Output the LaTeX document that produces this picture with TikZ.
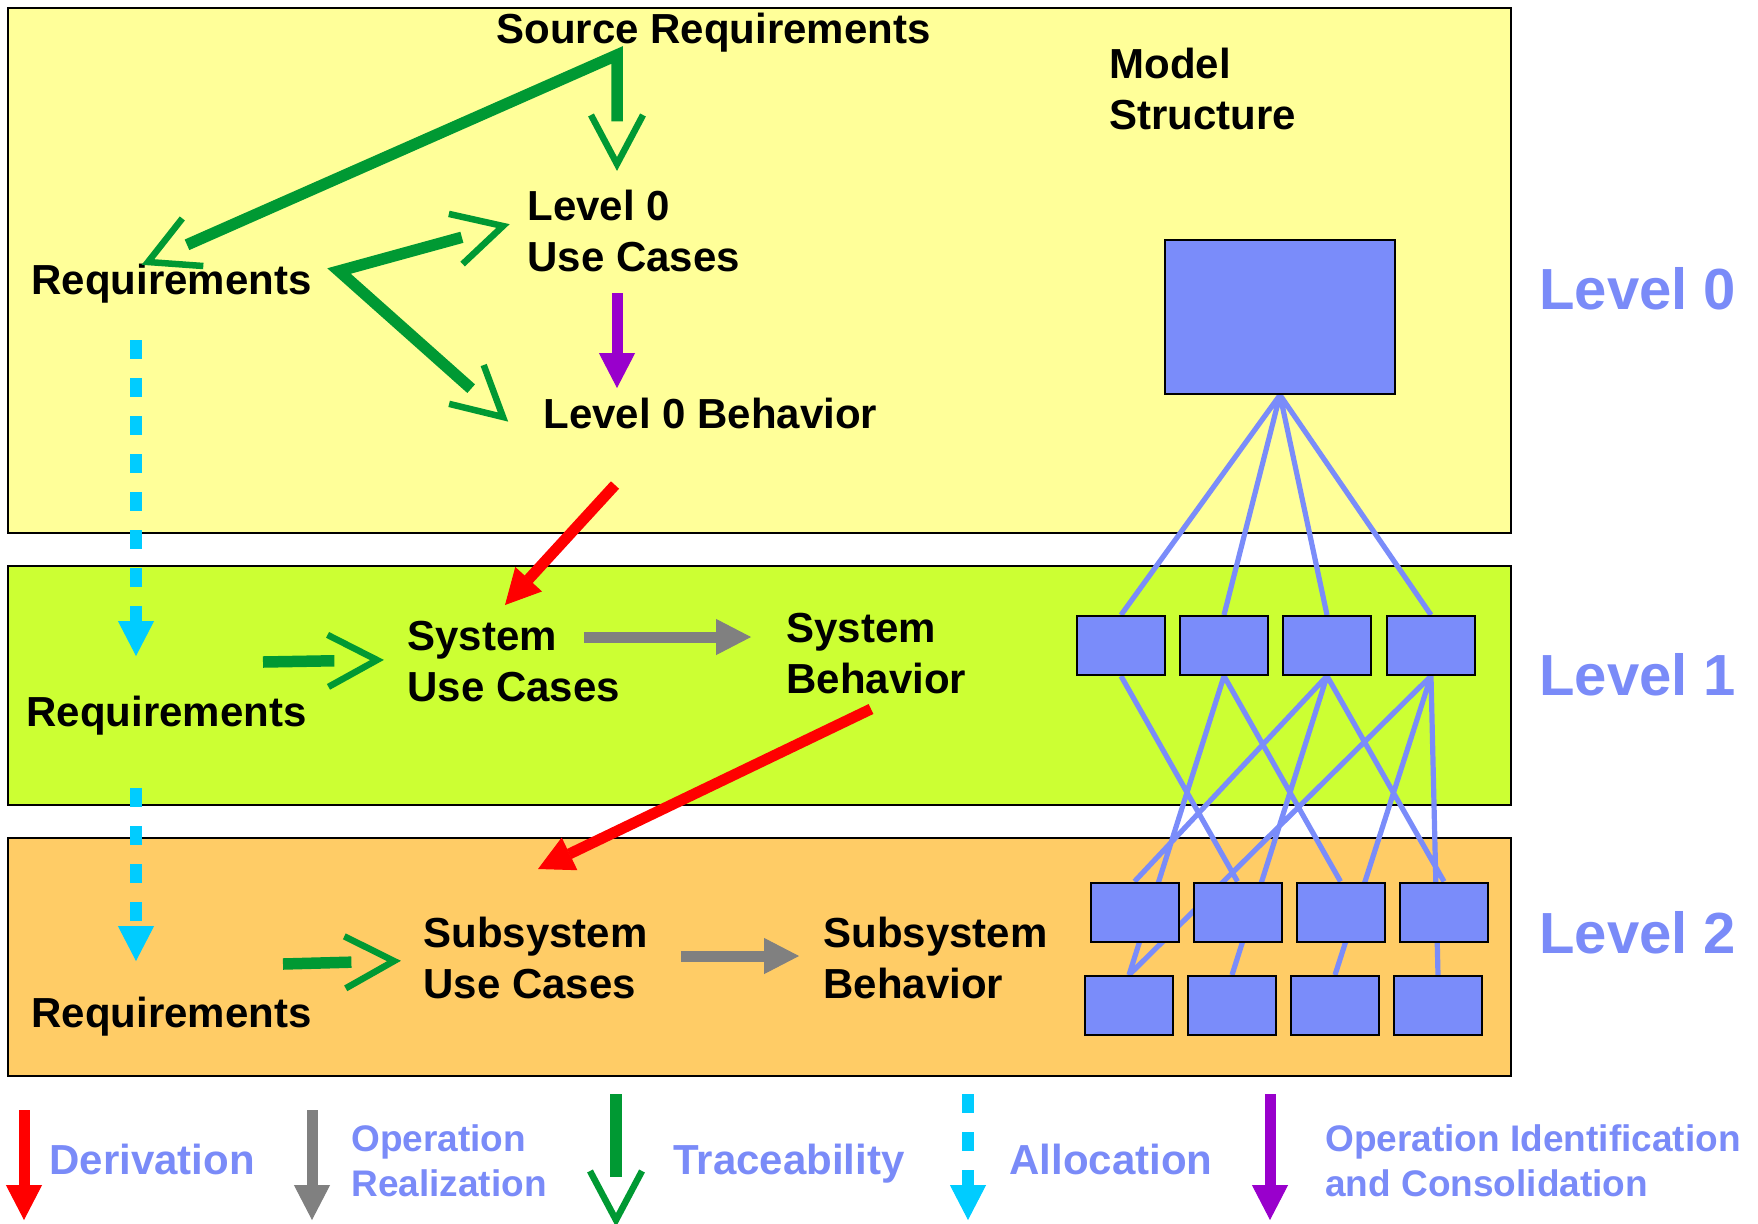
\documentclass[tikz,border=0pt]{standalone}
\usepackage{fontspec}
\setmainfont{Liberation Sans}
\usetikzlibrary{arrows.meta}

% Open "V" head whose shaft stops inside the V
\pgfdeclarearrow{
  name = OpenVee,
  parameters = {\the\pgfarrowlength,\the\pgfarrowwidth,\the\pgfarrowlinewidth},
  setup code = {
    \pgfarrowssettipend{0pt}
    \pgfarrowssetlineend{-.87\pgfarrowlength}
    \pgfarrowssetbackend{-\pgfarrowlength}
    \pgfarrowssavethe\pgfarrowlength
    \pgfarrowssavethe\pgfarrowwidth
    \pgfarrowssavethe\pgfarrowlinewidth
  },
  drawing code = {
    \pgfsetdash{}{+0pt}
    \pgfsetmiterjoin
    \pgfsetbuttcap
    \pgfsetlinewidth{\pgfarrowlinewidth}
    \pgfpathmoveto{\pgfqpoint{-\pgfarrowlength}{.5\pgfarrowwidth}}
    \pgfpathlineto{\pgfqpoint{0pt}{0pt}}
    \pgfpathlineto{\pgfqpoint{-\pgfarrowlength}{-.5\pgfarrowwidth}}
    \pgfusepathqstroke
  },
  defaults = {length = +24.5pt, width = +26pt, line width = +3.25pt}
}

\pgfdeclarelayer{panels}
\pgfdeclarelayer{links}
\pgfsetlayers{panels,links,main}

\definecolor{panelyellow}{RGB}{255,255,153}
\definecolor{panelgreen}{RGB}{204,255,51}
\definecolor{panelorange}{RGB}{255,204,102}
\definecolor{structblue}{RGB}{122,140,250}
\definecolor{labelblue}{RGB}{122,139,248}
\definecolor{tracegreen}{RGB}{0,153,51}
\definecolor{allocblue}{RGB}{0,204,255}
\definecolor{opidpurple}{RGB}{153,0,204}
\definecolor{realgray}{RGB}{128,128,128}

\begin{document}
\begin{tikzpicture}[x=0.5pt,y=-0.5pt,
  panel/.style={draw=black,line width=1pt},
  sbox/.style={draw=black,line width=1pt,fill=structblue,inner sep=0pt,
    minimum width=44pt,minimum height=29.5pt},
  link/.style={draw=structblue,line width=2.6pt},
  txt/.style={inner sep=0pt,font=\fontsize{21}{25.5}\selectfont\bfseries,align=left},
  lvl/.style={inner sep=0pt,font=\fontsize{29}{34}\selectfont\bfseries,text=labelblue,anchor=base west},
  leg/.style={inner sep=0pt,font=\fontsize{21}{25.5}\selectfont\bfseries,text=labelblue},
  leg2/.style={inner sep=0pt,font=\fontsize{18.5}{22.5}\selectfont\bfseries,text=labelblue,align=left,anchor=west},
  filltip/.style={-{Triangle[length=17.5pt,width=18pt,line width=0.5pt 0 0]}},
  derive/.style={draw=red,line width=5.5pt,filltip},
  realize/.style={draw=realgray,line width=5.5pt,filltip},
  opid/.style={draw=opidpurple,line width=5.5pt,filltip},
  alloc/.style={draw=allocblue,line width=5.75pt,dash pattern=on 9.5pt off 9.5pt,filltip},
  vtip/.style={OpenVee},
  trace/.style={draw=tracegreen,line width=5.75pt,line join=miter,-{OpenVee}},
  tracetwo/.style={draw=tracegreen,line width=5.75pt,line join=miter,{OpenVee}-{OpenVee}}
]
\useasboundingbox (0,0) rectangle (1758,1223);

% level panels
\begin{pgfonlayer}{panels}
\draw[panel,fill=panelyellow] (8,8) rectangle (1511,533);
\draw[panel,fill=panelgreen] (8,566) rectangle (1511,805);
\draw[panel,fill=panelorange] (8,838) rectangle (1511,1076);
\end{pgfonlayer}

% level labels
\node[lvl] (lv0) at (1539,309) {Level 0};
\node[lvl] (lv1) at (1539,695) {Level 1};
\node[lvl] (lv2) at (1539,953) {Level 2};

% model structure boxes
\node[sbox,minimum width=115pt,minimum height=77pt] (top) at (1280,317) {};
\node[sbox] (ma) at (1121,645.5) {};
\node[sbox] (mb) at (1224,645.5) {};
\node[sbox] (mc) at (1327,645.5) {};
\node[sbox] (md) at (1431,645.5) {};
\node[sbox] (ua) at (1134.5,912) {};
\node[sbox] (ub) at (1237.5,912) {};
\node[sbox] (uc) at (1340.5,912) {};
\node[sbox] (ud) at (1444,912) {};
\node[sbox] (la) at (1129,1005.5) {};
\node[sbox] (lb) at (1232,1005.5) {};
\node[sbox] (lc) at (1335,1005.5) {};
\node[sbox] (ld) at (1438,1005.5) {};

% model structure links, kept beneath the boxes
\begin{pgfonlayer}{links}
\path[link] (top.south) -- (ma.north) (top.south) -- (mb.north)
  (top.south) -- (mc.north) (top.south) -- (md.north);
\path[link] (ma.south) -- (ub.north)
  (mb.south) -- (la.north) (mb.south) -- (uc.north)
  (mc.south) -- (ua.north) (mc.south) -- (lb.north) (mc.south) -- (ud.north)
  (md.south) -- (la.north) (md.south) -- (lc.north) (md.south) -- (ld.north);
\end{pgfonlayer}

% texts
\node[txt,anchor=base west] (src) at (496,43) {Source Requirements};
\node[txt,anchor=west] (ms) at (1109,88.5) {Model\\Structure};
\node[txt,anchor=west] (uc0) at (527,230.5) {Level 0\\Use Cases};
\node[txt,anchor=base west] (req0) at (31,294) {Requirements};
\node[txt,anchor=base west] (beh0) at (543,428) {Level 0 Behavior};
\node[txt,anchor=west] (uc1) at (407,662) {System\\Use Cases};
\node[txt,anchor=west] (beh1) at (786,654) {System\\Behavior};
\node[txt,anchor=base west] (req1) at (26,726) {Requirements};
\node[txt,anchor=west] (uc2) at (423,958) {Subsystem\\Use Cases};
\node[txt,anchor=west] (beh2) at (823,958) {Subsystem\\Behavior};
\node[txt,anchor=base west] (req2) at (31,1027) {Requirements};

% arrow end points
\coordinate (srcFork) at (617,55);
\coordinate (req0Tip) at (148,262);
\coordinate (uc0Top) at (617,164);
\coordinate (req0Fork) at (339,271);
\coordinate (uc0Left) at (503,226);
\coordinate (beh0Left) at (503,417);
\coordinate (uc0Below) at (617,293);
\coordinate (beh0Top) at (617,388);
\coordinate (beh0Below) at (615,485);
\coordinate (uc1Top) at (505,605);
\coordinate (beh1Below) at (871,709);
\coordinate (uc2Top) at (538,869);
\coordinate (uc1Right) at (584,637);
\coordinate (beh1Left) at (751,637);
\coordinate (uc2Right) at (681,956);
\coordinate (beh2Left) at (799,956);
\coordinate (req1Right) at (263,662);
\coordinate (uc1Left) at (377,660);
\coordinate (req2Right) at (283,964);
\coordinate (uc2Left) at (394,961);
\coordinate (req0Below) at (136,340);
\coordinate (req1Top) at (136,656);
\coordinate (req1Below) at (136,788);
\coordinate (req2Top) at (136,961);

% traceability
\draw[tracetwo] (req0Tip) -- (srcFork) -- (uc0Top);
\draw[tracetwo] (uc0Left) -- (req0Fork) -- (beh0Left);
\draw[trace] (req1Right) -- (uc1Left);
\draw[trace] (req2Right) -- (uc2Left);
% operation identification and consolidation
\draw[opid] (uc0Below) -- (beh0Top);
% derivation
\draw[derive] (beh0Below) -- (uc1Top);
\draw[derive] (beh1Below) -- (uc2Top);
% operation realization
\draw[realize] (uc1Right) -- (beh1Left);
\draw[realize] (uc2Right) -- (beh2Left);
% allocation
\draw[alloc] (req0Below) -- (req1Top);
\draw[alloc] (req1Below) -- (req2Top);

% legend
\coordinate (kRedA) at (24,1110);   \coordinate (kRedB) at (24,1220);
\coordinate (kGrayA) at (312,1110); \coordinate (kGrayB) at (312,1220);
\coordinate (kGrnA) at (616,1094);  \coordinate (kGrnB) at (616,1220);
\coordinate (kCyA) at (968,1094);   \coordinate (kCyB) at (968,1220);
\coordinate (kPuA) at (1270,1094);  \coordinate (kPuB) at (1270,1220);
\draw[derive] (kRedA) -- (kRedB);
\draw[realize] (kGrayA) -- (kGrayB);
\draw[trace] (kGrnA) -- (kGrnB);
\draw[alloc] (kCyA) -- (kCyB);
\draw[opid] (kPuA) -- (kPuB);
\node[leg,anchor=base west] (kDer) at (49,1174) {Derivation};
\node[leg2] (kReal) at (351,1160.5) {Operation\\Realization};
\node[leg,anchor=base west] (kTrace) at (673,1174) {Traceability};
\node[leg,anchor=base west] (kAlloc) at (1009,1174) {Allocation};
\node[leg2] (kOpid) at (1325,1160.5) {Operation Identification\\and Consolidation};
\end{tikzpicture}
\end{document}
